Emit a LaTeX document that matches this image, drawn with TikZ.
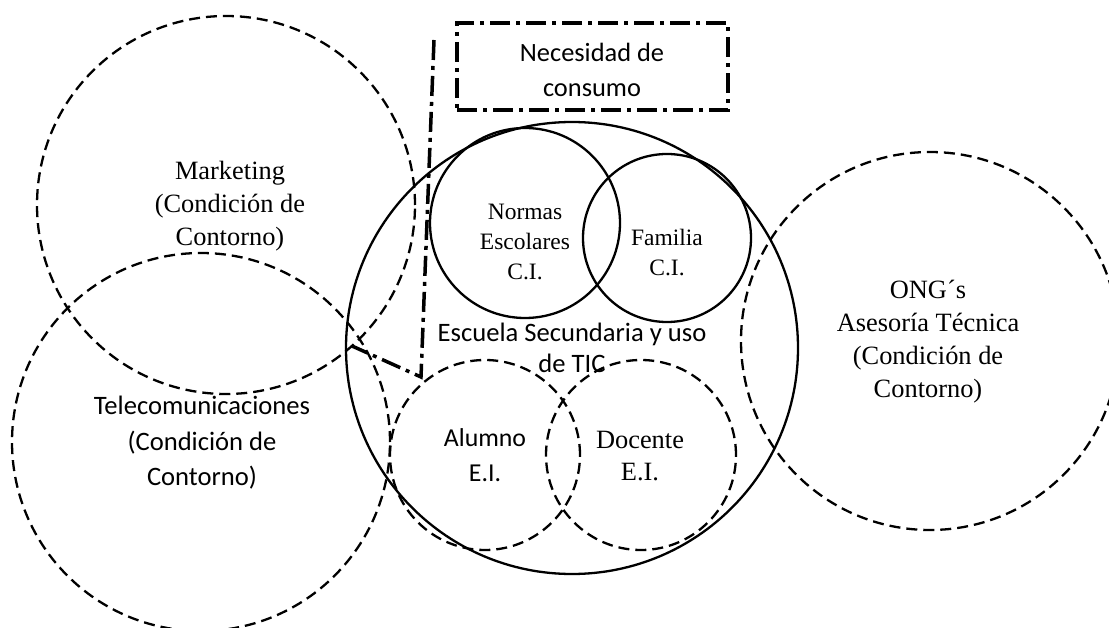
\documentclass[tikz,border=0pt]{standalone}
\usepackage{fontspec}
\setmainfont{Liberation Serif}
\newfontfamily\calib{Carlito}
\begin{document}
\begin{tikzpicture}[x=1pt,y=-1pt,
  dashcirc/.style={draw, circle, inner sep=0pt, line width=2.3pt, dash pattern=on 11pt off 6pt},
  solidcirc/.style={draw, circle, inner sep=0pt, line width=2.3pt},
  serifbig/.style={align=center, font=\fontsize{26.4}{33}\selectfont},
  sansbig/.style={align=center, font=\calib\fontsize{26.6}{35.5}\selectfont},
  serifsmall/.style={align=center, font=\fontsize{23.5}{30}\selectfont},
  dashdot/.style={line width=3.5pt, dash pattern=on 20pt off 6pt on 4pt off 6pt}
]
\useasboundingbox (0,0) rectangle (1109,628);
% outer condition circles
\node[dashcirc, minimum size=378pt] (mkt) at (226,205) {};
\node[dashcirc, minimum size=378pt] (tel) at (201,442) {};
\node[dashcirc, minimum size=378pt] (ong) at (930,341) {};
% school circle
\node[solidcirc, minimum size=452pt] (esc) at (572,348) {};
\node[solidcirc, minimum size=190pt] (nor) at (525,223) {};
\node[solidcirc, minimum size=168pt] (fam) at (667,238) {};
\node[dashcirc, minimum size=190pt] (alu) at (485,455) {};
\node[dashcirc, minimum size=190pt] (doc) at (641,455) {};
% texts
\node[serifbig] (tmkt) at (230,206) {Marketing\\(Condición de\\Contorno)};
\node[sansbig] (ttel) at (202,443) {Telecomunicaciones\\(Condición de\\Contorno)};
\node[serifbig] (tong) at (928,342) {ONG´s\\Asesoría Técnica\\(Condición de\\Contorno)};
\node[serifsmall] (tnor) at (525,242) {Normas\\Escolares\\C.I.};
\node[serifsmall] (tfam) at (667,253) {Familia\\C.I.};
\node[align=center, font=\calib\fontsize{26.6}{31}\selectfont] (tesc) at (572,348) {Escuela Secundaria y uso\\de TIC};
\node[align=center, font=\calib\fontsize{25.8}{35}\selectfont] (talu) at (485,455) {Alumno\\E.I.};
\node[align=center, font=\fontsize{26.4}{32}\selectfont] (tdoc) at (640,456) {Docente\\E.I.};
% necesidad de consumo
\node[draw, dashdot, minimum width=271pt, minimum height=87pt, inner sep=0pt] (nec) at (592.5,66.5) {};
\node[align=center, font=\calib\fontsize{26.4}{35}\selectfont] (tnec) at (592,70) {Necesidad de\\consumo};
% dash-dot boundary line
\coordinate (d1) at (434,40);
\coordinate (d2) at (421,377);
\coordinate (d3) at (352,346);
\draw[dashdot] (d1) -- (d2) -- (d3);
\end{tikzpicture}
\end{document}
